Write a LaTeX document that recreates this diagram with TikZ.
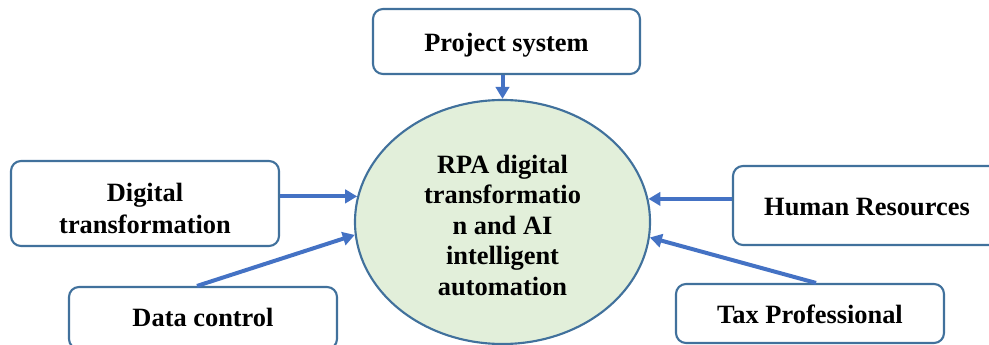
\documentclass[tikz,border=0pt]{standalone}
\usepackage{fontspec}
\setmainfont{Liberation Serif}
\usetikzlibrary{arrows.meta,shapes.geometric}
\definecolor{boxline}{HTML}{41719C}
\definecolor{arrowc}{HTML}{4472C4}
\definecolor{ellfill}{HTML}{E2EFDA}
\newcommand\lowtext[2][2.6pt]{\raisebox{-#1}[\height][\depth]{\begin{tabular}{@{}c@{}}#2\end{tabular}}}
\tikzset{
  px/.style={x=0.75pt,y=-0.75pt},
  boxnode/.style={draw=boxline, line width=1.6pt, rounded corners=7.5pt, fill=white,
    inner sep=0pt, font=\bfseries\fontsize{19.8}{23.2}\selectfont},
  flow/.style={draw=arrowc, line width=3pt, -{Triangle[length=9pt,width=10pt]}},
}
\begin{document}
\begin{tikzpicture}[px]
\useasboundingbox (0,0) rectangle (989,345);
\clip (0,0) rectangle (989,345);
\node[draw=boxline, line width=1.6pt, fill=ellfill, ellipse, minimum width=295*0.75pt,
  minimum height=244*0.75pt, inner sep=0pt,
  font=\bfseries\fontsize{19.8}{22.8}\selectfont] (e) at (502.5,222)
  {\lowtext[4.6pt]{RPA digital\\transformatio\\n and AI\\intelligent\\automation}};
\node[boxnode, minimum width=267*0.75pt, minimum height=65*0.75pt] (p) at (506.5,41.5) {\lowtext[3.2pt]{Project system}};
\node[boxnode, minimum width=268*0.75pt, minimum height=85*0.75pt,
  font=\bfseries\fontsize{19.8}{23.7}\selectfont] (d) at (145,203.5) {\lowtext[5.8pt]{Digital\\transformation}};
\node[boxnode, minimum width=268*0.75pt, minimum height=62*0.75pt] (dc) at (203,318) {\lowtext[2.1pt]{Data control}};
\node[boxnode, minimum width=268*0.75pt, minimum height=79*0.75pt] (h) at (867,205.5) {\lowtext[2.5pt]{Human Resources}};
\node[boxnode, minimum width=268*0.75pt, minimum height=59*0.75pt] (t) at (810,313.5) {\lowtext[2.5pt]{Tax Professional}};
\draw[flow] (p.south -| e.north) -- (e.north);
\draw[flow] (d.east |- e.170.5) -- (e.170.5);
\draw[flow] ([xshift=-4.5pt]dc.north) -- (e.185.5);
\draw[flow] (h.west |- e.9.5) -- (e.9.5);
\draw[flow] ([xshift=4.5pt]t.north) -- (e.354.5);
\end{tikzpicture}
\end{document}
